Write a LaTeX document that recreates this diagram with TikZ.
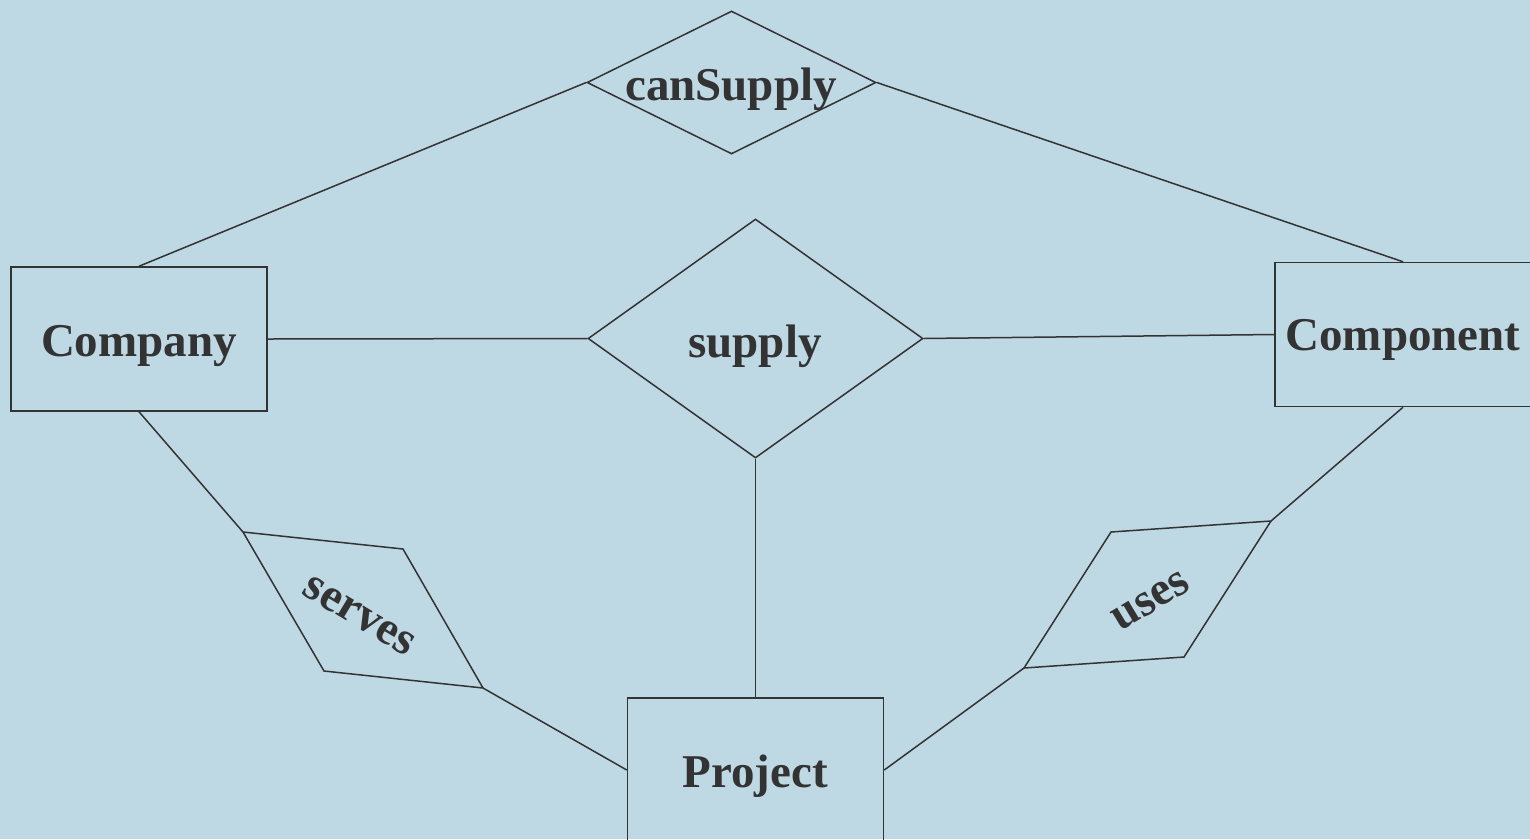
\documentclass[tikz,border=0pt]{standalone}
\usepackage{fontspec}
\setmainfont{Liberation Serif}
\usetikzlibrary{shapes.geometric}
\definecolor{bg}{HTML}{BED8E4}
\definecolor{ink}{HTML}{333333}
\tikzset{
  x=1pt,y=-1pt,
  ent/.style={draw=ink, line width=1.5pt, minimum width=256pt, minimum height=144pt, inner sep=0pt},
  rel/.style={draw=ink, line width=1.5pt, diamond, inner sep=0pt},
  lbl/.style={text=ink, font=\fontsize{47}{56}\selectfont\bfseries, inner sep=0pt},
  conn/.style={draw=ink, line width=1.5pt},
}
\begin{document}
\begin{tikzpicture}
\fill[bg] (0,0) rectangle (1530,839);
\useasboundingbox (0,0) rectangle (1530,839);
% entities
\node[ent] (company) at (139,339) {};
\node[lbl] at (139,346) {Company};
\node[ent] (component) at (1403,334.5) {};
\node[lbl] at (1403,340) {Component};
\node[ent] (project) at (755.5,770) {};
\node[lbl] at (755,776) {Project};
% diamonds
\node[rel, minimum width=289pt, minimum height=143pt] (cansupply) at (731.5,82.5) {};
\node[lbl] at (731,89) {canSupply};
\node[rel, minimum width=335pt, minimum height=239pt] (supply) at (755.5,338.5) {};
\node[lbl] at (755,346) {supply};
% parallelograms
\coordinate (s1) at (243,532);
\coordinate (s2) at (403,549);
\coordinate (s3) at (483,688);
\coordinate (s4) at (324,671);
\draw[conn] (s1) -- (s2) -- (s3) -- (s4) -- cycle;
\node[lbl, rotate=-31] (serves) at (359,616) {serves};
\coordinate (u1) at (1111,532);
\coordinate (u2) at (1271,521);
\coordinate (u3) at (1184,657);
\coordinate (u4) at (1024,668);
\draw[conn] (u1) -- (u2) -- (u3) -- (u4) -- cycle;
\node[lbl, rotate=31] (uses) at (1151,601) {uses};
% connectors
\draw[conn] (company.north) -- (cansupply.west);
\draw[conn] (cansupply.east) -- (component.north);
\draw[conn] (company.east) -- (supply.west);
\draw[conn] (supply.east) -- (component.west);
\draw[conn] (supply.south) -- (project.north);
\draw[conn] (company.south) -- (s1);
\draw[conn] (s3) -- (project.west);
\draw[conn] (project.east) -- (u4);
\draw[conn] (u2) -- (component.south);
\end{tikzpicture}
\end{document}
